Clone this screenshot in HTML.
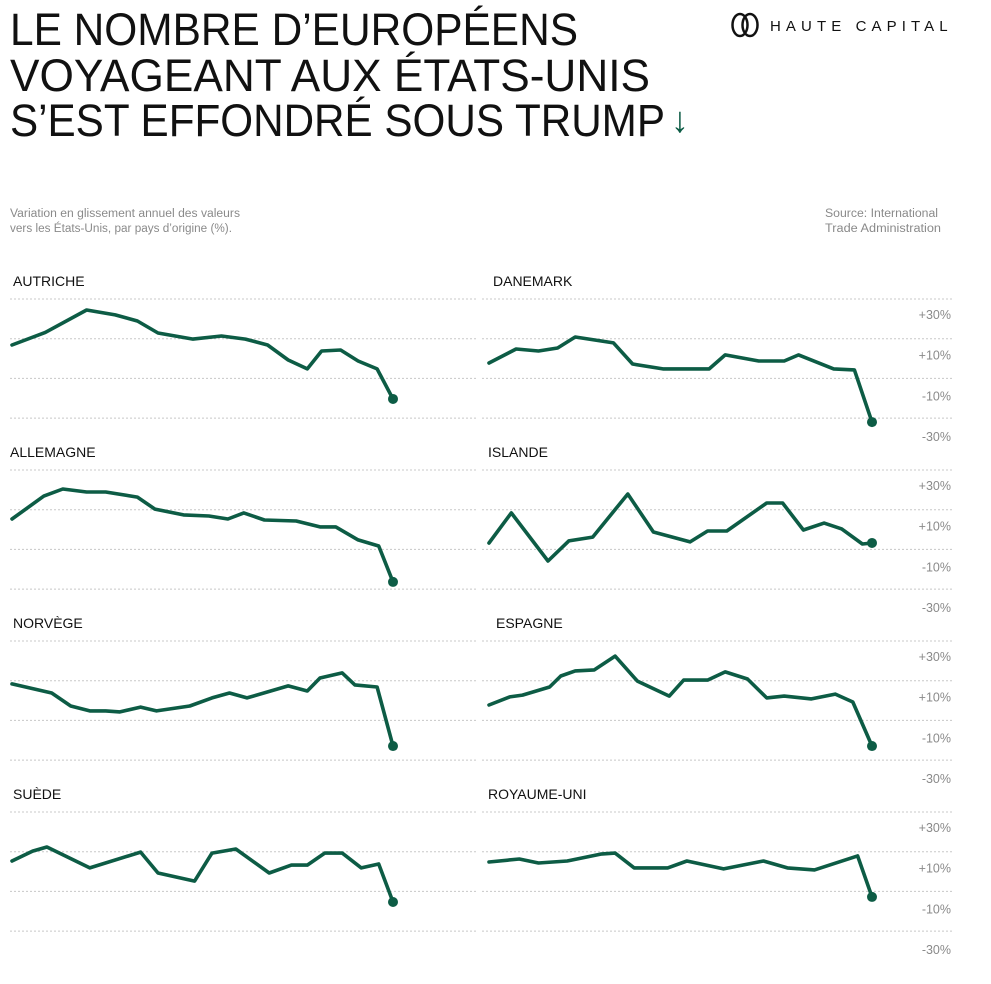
<!DOCTYPE html>
<html><head><meta charset="utf-8">
<style>
html,body{margin:0;padding:0;background:#fff;}
svg{display:block;font-family:"Liberation Sans",sans-serif;}
</style></head>
<body>
<svg id="chart" width="991" height="984" viewBox="0 0 991 984" xmlns="http://www.w3.org/2000/svg">
  <g fill="#111" font-size="45">
    <text x="10" y="45" textLength="568" lengthAdjust="spacingAndGlyphs">LE NOMBRE D’EUROPÉENS</text>
    <text x="10" y="91" textLength="640" lengthAdjust="spacingAndGlyphs">VOYAGEANT AUX ÉTATS-UNIS</text>
    <text x="10" y="136" textLength="655" lengthAdjust="spacingAndGlyphs">S’EST EFFONDRÉ SOUS TRUMP</text>
    <text x="671" y="132" fill="#0d5c45" font-size="36" font-weight="bold">↓</text>
  </g>
  <g>
    <ellipse cx="740" cy="25" rx="7.5" ry="11" fill="none" stroke="#111" stroke-width="2.5"/>
    <ellipse cx="750" cy="25" rx="7.5" ry="11" fill="none" stroke="#111" stroke-width="2.5"/>
    <text x="770" y="31" font-size="15" fill="#111" letter-spacing="5.1">HAUTE CAPITAL</text>
  </g>
  <g fill="#8a8a8a" font-size="11.5">
    <text x="10" y="217" textLength="230" lengthAdjust="spacingAndGlyphs">Variation en glissement annuel des valeurs</text>
    <text x="10" y="232" textLength="222" lengthAdjust="spacingAndGlyphs">vers les États-Unis, par pays d’origine (%).</text>
  </g>
  <g fill="#8a8a8a" font-size="11.5">
    <text x="825" y="217" textLength="113" lengthAdjust="spacingAndGlyphs">Source: International</text>
    <text x="825" y="232" textLength="116" lengthAdjust="spacingAndGlyphs">Trade Administration</text>
  </g>
  <g id="panels"></g>
</svg>
<script>
// Data: month positions (0..24) and YoY values (%) per country
const names = ["AUTRICHE","DANEMARK","ALLEMAGNE","ISLANDE","NORVÈGE","ESPAGNE","SUÈDE","ROYAUME-UNI"];
const autricheX = [0,2.1,4.7,6.5,7.9,9.2,11.4,13.2,14.7,16.1,17.4,18.6,19.5,20.7,21.8,23,24];
const autricheV = [14.8,21,32,29.6,26.6,20.7,17.7,19.2,17.7,14.8,7.4,3,11.8,12.3,6.9,3,-11.8];
const danemarkX = [0,1.7,3.1,4.3,5.4,7.8,9,10.9,13.8,14.8,16.9,18.5,19.4,21.6,22.9,24];
const danemarkV = [5.9,12.8,11.8,13.3,18.7,15.8,5.4,3,3,9.9,6.9,6.9,9.9,3,2.5,-23.2];
const allemagneX = [0,2,3.2,4.7,5.9,7.9,9,10.8,12.4,13.6,14.6,15.9,17.9,19.4,20.4,21.8,23.1,24];
const allemagneV = [13.3,24.6,28.1,26.6,26.6,24.1,18.2,15.3,14.8,13.3,16.3,12.8,12.3,9.4,9.4,3,0,-17.7];
const islandeX = [0,1.4,3.7,5,6.5,8.7,10.3,12.6,13.7,14.9,17.4,18.4,19.7,21,22.1,23.4,24];
const islandeV = [1.5,16.3,-7.4,2.5,4.4,25.6,6.9,2,7.4,7.4,21.2,21.2,7.9,11.3,8.4,1,1.5];
const norvegeX = [0,2.5,3.7,4.9,5.9,6.8,8.1,9.1,11.2,12.6,13.7,14.8,17.4,18.6,19.4,20.8,21.6,23,24];
const norvegeV = [16.3,11.8,5.4,3,3,2.5,4.9,3,5.4,9.4,11.8,9.4,15.3,12.8,19.2,21.7,15.8,14.8,-14.3];
const espagneX = [0,1.3,2.1,3.8,4.5,5.4,6.6,7.9,9.3,11.3,12.2,13.7,14.8,16.2,17.4,18.5,20.2,21.7,22.8,24];
const espagneV = [5.9,9.9,10.8,14.8,20.2,22.7,23.2,30,17.7,10.3,18.2,18.2,22.2,18.7,9.4,10.3,8.9,11.3,7.4,-14.3];
const suedeX = [0,1.3,2.2,4.9,8.1,9.2,11.5,12.6,14.1,16.2,17.6,18.6,19.7,20.8,22,23.1,24];
const suedeV = [13.3,18.2,20.2,9.9,17.7,7.4,3.4,17.2,19.2,7.4,11.3,11.3,17.2,17.2,9.9,11.8,-6.9];
const ukX = [0,1.9,3.1,4.9,7,7.9,9.1,11.2,12.4,14.7,17.2,18.7,20.4,23.1,24];
const ukV = [12.8,14.3,12.3,13.3,16.7,17.2,9.9,9.9,13.3,9.4,13.3,9.9,8.9,15.8,-4.4];
const tickLabels = ["+30%","+10%","-10%","-30%"];
const tickValues = [30,10,-10,-30];

const seriesX = [autricheX,danemarkX,allemagneX,islandeX,norvegeX,espagneX,suedeX,ukX];
const seriesV = [autricheV,danemarkV,allemagneV,islandeV,norvegeV,espagneV,suedeV,ukV];

const NS = "http://www.w3.org/2000/svg";
const root = document.getElementById("panels");
const titleX = [13,493,10,488,13,496,13,488];
function mk(tag, attrs){const e=document.createElementNS(NS,tag);for(const k in attrs)e.setAttribute(k,attrs[k]);return e;}

for (let i=0;i<8;i++){
  const row=Math.floor(i/2), col=i%2;
  const top=299+171*row;
  const zero=top+76;
  const yScale=v=>zero-v*2.03;
  const x0=col?489:12, x1=col?872:393;
  const xScale=t=>x0+t*(x1-x0)/24;
  const g=mk("g",{});
  
  
  const t=mk("text",{x:titleX[i],y:top-13,"font-size":"14","fill":"#111"});
  
  
  t.textContent=names[i];
  g.appendChild(t);
  for(let k=0;k<4;k++){
    const gy=top+k*39.7;
    const ln=mk("line",{x1:col?482:10,x2:col?952:478,y1:gy,y2:gy,stroke:"#c8c8c8","stroke-width":"1","stroke-dasharray":"2,2"});
    
    
    g.appendChild(ln);
  }
  if(col){
    for(let k=0;k<4;k++){
      const lt=mk("text",{x:951,y:yScale(tickValues[k])+5,"text-anchor":"end","font-size":"12.5",fill:"#8a8a8a"});
      
      
      lt.textContent=tickLabels[k];
      g.appendChild(lt);
    }
  }
  const xs=seriesX[i], vs=seriesV[i];
  const pts=xs.map((m,j)=>xScale(m).toFixed(1)+","+yScale(vs[j]).toFixed(1)).join(" ");
  const pl=mk("polyline",{points:pts,fill:"none",stroke:"#0d5c45","stroke-width":"3.6","stroke-linejoin":"round","stroke-linecap":"round"});
  
  
  g.appendChild(pl);
  const n=xs.length-1;
  const dot=mk("circle",{cx:xScale(xs[n]),cy:yScale(vs[n]),r:5,fill:"#0d5c45"});
  
  
  g.appendChild(dot);
  root.appendChild(g);
}
</script>
</body></html>
